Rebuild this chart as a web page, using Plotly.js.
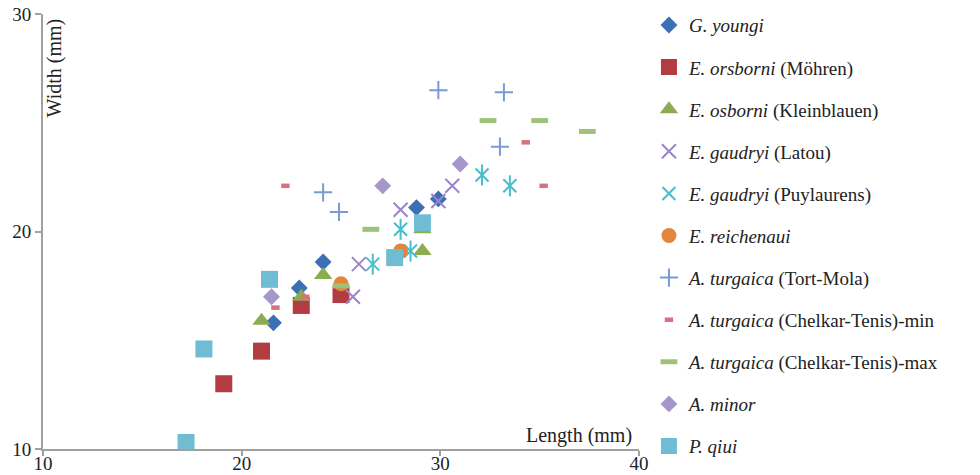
<!DOCTYPE html>
<html>
<head>
<meta charset="utf-8">
<script src="https://cdn.plot.ly/plotly-3.0.1.min.js"></script>
<style>html,body{margin:0;padding:0;background:#fff;}#chart{width:980px;height:475px;}</style>
</head>
<body>
<div id="chart"></div>
<script>
// ---- data (Length mm, Width mm) ----
const gYoungiX = [21.6, 22.9, 24.1, 28.8, 29.9];
const gYoungiY = [15.8, 17.4, 18.6, 21.1, 21.5];
const eOrsborniX = [19.1, 21.0, 23.0, 25.0];
const eOrsborniY = [13.0, 14.5, 16.6, 17.1];
const eOsborniX = [21.0, 23.0, 24.1, 29.1, 29.1];
const eOsborniY = [15.9, 17.0, 18.0, 19.1, 20.1];
const latouX = [25.6, 25.9, 28.0, 29.9, 30.6];
const latouY = [17.0, 18.5, 21.0, 21.4, 22.1];
const puylaurensX = [26.6, 28.0, 28.5, 32.1, 33.5];
const puylaurensY = [18.5, 20.1, 19.1, 22.6, 22.1];
const reichenauiX = [25.0, 28.0];
const reichenauiY = [17.6, 19.1];
const tortMolaX = [24.1, 24.9, 29.9, 33.2, 33.0];
const tortMolaY = [21.8, 20.9, 26.5, 26.4, 23.9];
const chelkarMinX = [21.7, 22.2, 23.2, 34.3, 35.2];
const chelkarMinY = [16.5, 22.1, 17.0, 24.1, 22.1];
const chelkarMaxX = [25.0, 26.5, 32.4, 35.0, 37.4];
const chelkarMaxY = [17.5, 20.1, 25.1, 25.1, 24.6];
const aMinorX = [21.5, 27.1, 31.0];
const aMinorY = [17.0, 22.1, 23.1];
const pQiuiX = [17.2, 18.1, 21.4, 27.7, 29.1];
const pQiuiY = [10.3, 14.6, 17.8, 18.8, 20.4];

const names = [
  '<i>G. youngi</i>',
  '<i>E. orsborni</i> (Möhren)',
  '<i>E. osborni</i> (Kleinblauen)',
  '<i>E. gaudryi</i> (Latou)',
  '<i>E. gaudryi</i> (Puylaurens)',
  '<i>E. reichenaui</i>',
  '<i>A. turgaica</i> (Tort-Mola)',
  '<i>A. turgaica</i> (Chelkar-Tenis)-min',
  '<i>A. turgaica</i> (Chelkar-Tenis)-max',
  '<i>A. minor</i>',
  '<i>P. qiui</i>'
];
const xTickVals = [10, 20, 30, 40];
const yTickVals = [10, 20, 30];

function tr(i, x, y, marker, extra) {
  return Object.assign({
    type: 'scatter', mode: 'markers', x: x, y: y, name: names[i],
    legendgroup: 'g' + i, marker: marker, hoverinfo: 'x+y'
  }, extra || {});
}

const data = [
  tr(0, gYoungiX, gYoungiY, {symbol: 'diamond', size: 13, color: '#3b6fb6'}),
  tr(1, eOrsborniX, eOrsborniY, {symbol: 'square', size: 17, color: '#b33b42'}),
  tr(2, eOsborniX, eOsborniY, {symbol: 'triangle-up', size: 16, color: '#8bac51'}),
  tr(3, latouX, latouY, {symbol: 'x-thin-open', size: 14, color: '#9b85c8', line: {color: '#9b85c8', width: 2}}),
  tr(4, puylaurensX, puylaurensY, {symbol: 'x-thin-open', size: 13, color: '#4bbcca', line: {color: '#4bbcca', width: 2}}),
  tr(4, puylaurensX, puylaurensY, {symbol: 'line-ns-open', size: 15, color: '#4bbcca', line: {color: '#4bbcca', width: 2}}, {showlegend: false}),
  tr(5, reichenauiX, reichenauiY, {symbol: 'circle', size: 15, color: '#e5853b'}),
  tr(6, tortMolaX, tortMolaY, {symbol: 'cross-thin-open', size: 13, color: '#7a9ad6', line: {color: '#7a9ad6', width: 2}}),
  tr(7, chelkarMinX, chelkarMinY, {symbol: 'line-ew-open', size: 6, color: '#d8707d', line: {color: '#d8707d', width: 4.5}}),
  tr(8, chelkarMaxX, chelkarMaxY, {symbol: 'line-ew-open', size: 12, color: '#9fc27b', line: {color: '#9fc27b', width: 5}}),
  tr(9, aMinorX, aMinorY, {symbol: 'diamond', size: 13, color: '#a596cc'}),
  tr(10, pQiuiX, pQiuiY, {symbol: 'square', size: 17, color: '#70bcd2'})
];

const serif = 'Liberation Serif, Times New Roman, serif';
const layout = {
  width: 980, height: 475,
  margin: {l: 43, r: 341, t: 14, b: 26, pad: 0, autoexpand: false},
  paper_bgcolor: '#fff', plot_bgcolor: '#fff',
  font: {family: serif, size: 19, color: '#222'},
  showlegend: true,
  legend: {
    x: 1.0167, xanchor: 'left', y: 1.018, yanchor: 'top',
    font: {family: serif, size: 19, color: '#222'},
    tracegroupgap: 14.4, itemsizing: 'trace', bgcolor: 'rgba(0,0,0,0)',
    maxheight: 2000
  },
  xaxis: {
    range: [10, 40], tickvals: xTickVals, ticktext: xTickVals.map(String),
    showgrid: false, zeroline: false, showline: true, linecolor: '#a0a0a0', linewidth: 2,
    ticks: 'outside', ticklen: 5, tickwidth: 2, tickcolor: '#a0a0a0',
    ticklabelstandoff: -9,
    tickfont: {family: serif, size: 19, color: '#222'}
  },
  yaxis: {
    range: [10, 30], tickvals: yTickVals, ticktext: yTickVals.map(String),
    showgrid: false, zeroline: false, showline: true, linecolor: '#a0a0a0', linewidth: 2,
    ticks: 'outside', ticklen: 6, tickwidth: 2, tickcolor: '#a0a0a0',
    tickfont: {family: serif, size: 19, color: '#222'}
  },
  annotations: [
    {text: 'Width (mm)', xref: 'paper', yref: 'paper', x: 0.0193, y: 0.876,
     xanchor: 'center', yanchor: 'middle', textangle: -90, showarrow: false,
     font: {family: serif, size: 20, color: '#222'}},
    {text: 'Length (mm)', xref: 'paper', yref: 'paper', x: 0.899, y: 0.032,
     xanchor: 'center', yanchor: 'middle', showarrow: false,
     font: {family: serif, size: 20, color: '#222'}}
  ]
};

Plotly.newPlot('chart', data, layout, {displayModeBar: false, staticPlot: true});
</script>
</body>
</html>
